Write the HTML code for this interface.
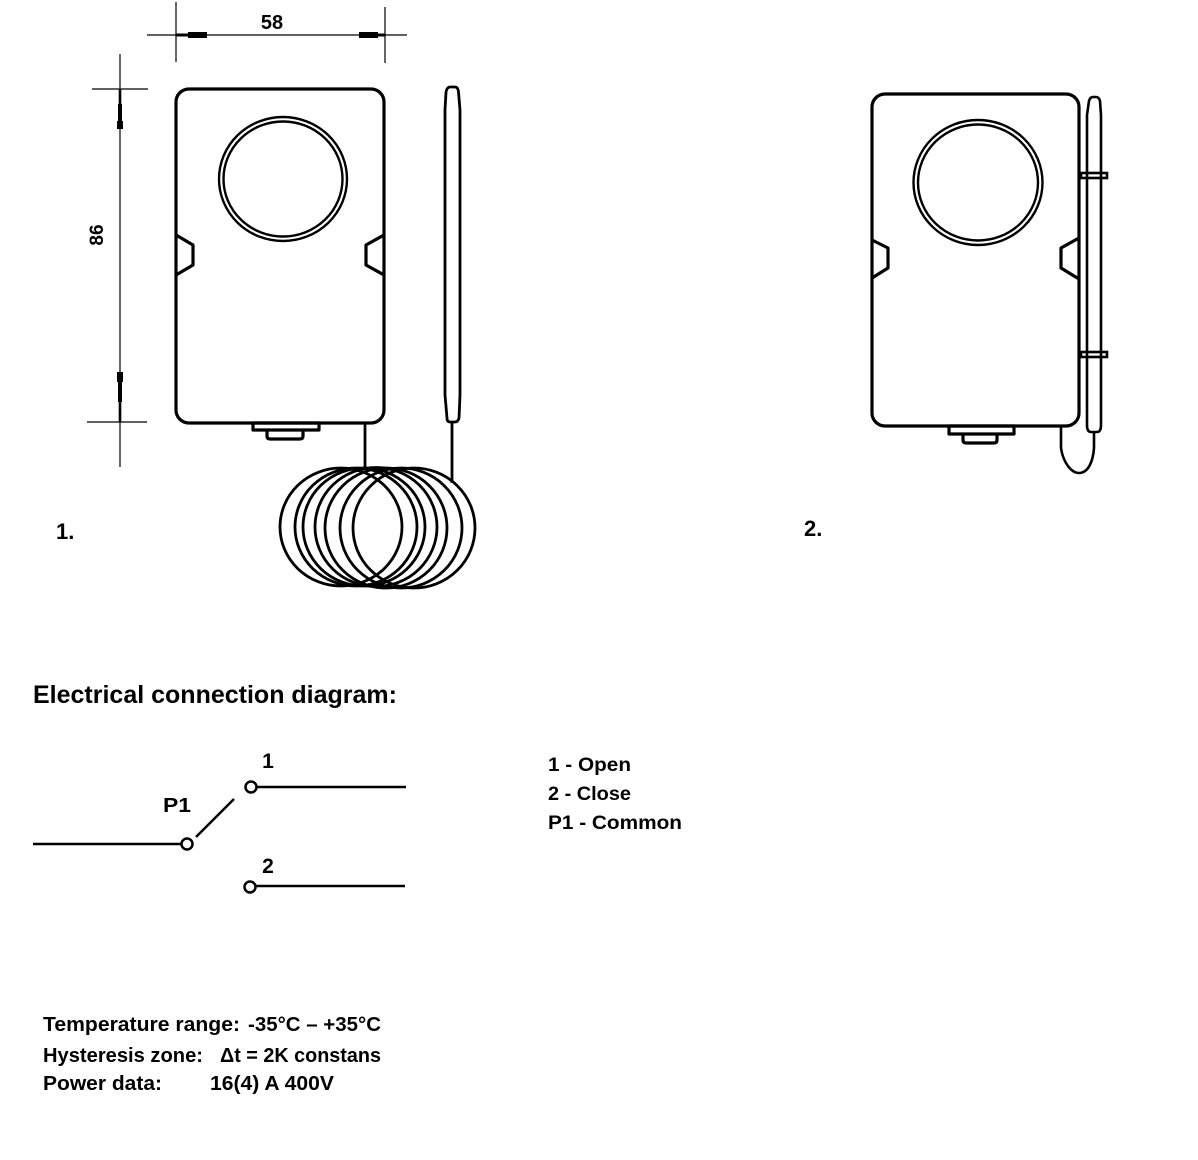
<!DOCTYPE html>
<html><head><meta charset="utf-8"><style>
html,body{margin:0;padding:0;background:#fff;}
svg{display:block;}
text{font-family:"Liberation Sans",sans-serif;font-weight:bold;fill:#000;}
</style></head><body>
<svg width="1198" height="1160" viewBox="0 0 1198 1160" xmlns="http://www.w3.org/2000/svg">
<rect width="1198" height="1160" fill="#fff"/>
<!-- Dimension 58 -->
<g stroke="#000" stroke-width="1.2" fill="none">
<line x1="176" y1="2" x2="176" y2="62"/>
<line x1="385" y1="7" x2="385" y2="63"/>
<line x1="147" y1="35" x2="407" y2="35"/>
<line x1="120" y1="54" x2="120" y2="467"/>
<line x1="92" y1="89" x2="148" y2="89"/>
<line x1="87" y1="422" x2="147" y2="422"/>
</g>
<g fill="#000">
<rect x="176" y="33.5" width="12" height="3"/>
<rect x="188" y="32" width="19" height="6"/>
<rect x="359" y="32" width="19" height="6"/>
<rect x="378" y="33.5" width="7" height="3"/>
<rect x="118.7" y="89" width="2.6" height="15"/>
<rect x="118" y="104" width="4" height="17"/>
<rect x="117" y="121" width="6" height="8"/>
<rect x="117" y="372" width="6" height="10"/>
<rect x="118" y="382" width="4" height="20"/>
<rect x="118.7" y="402" width="2.6" height="20"/>
</g>
<text x="272" y="29" font-size="20" text-anchor="middle">58</text>
<text transform="translate(103,235) rotate(-90)" font-size="19" text-anchor="middle">86</text>

<!-- Device 1 -->
<g stroke="#000" stroke-width="3.2" fill="none" stroke-linejoin="round">
<rect x="176" y="89" width="208" height="334" rx="13" ry="13"/>
<polyline points="176,235 193,245 193,265 176,275"/>
<polyline points="384,235 366,245 366,265 384,275"/>
<rect x="253" y="423" width="66" height="7"/>
<path d="M267,430 L267,436 Q267,439 270,439 L300,439 Q303,439 303,436 L303,430"/>
</g>
<g stroke="#000" stroke-width="2.4" fill="none">
<ellipse cx="283" cy="179" rx="64" ry="62"/>
<ellipse cx="283" cy="179" rx="59.5" ry="57.5"/>
</g>
<g stroke="#000" stroke-width="2.8" fill="none">
<line x1="365" y1="423" x2="365" y2="468"/>
<path d="M445,110 L446,92 Q447,87 450,87 L455,87 Q458,87 458.5,92 L460,110 L460,395 L459,418 Q458,422 455,422 L450,422 Q447,422 447,418 L445,395 Z"/>
<line x1="452" y1="422" x2="452" y2="483"/>
<ellipse cx="341" cy="527" rx="61" ry="59"/>
<ellipse cx="356" cy="527" rx="61" ry="59"/>
<ellipse cx="364" cy="527" rx="61" ry="59"/>
<ellipse cx="376" cy="527" rx="61" ry="59.5"/>
<ellipse cx="386" cy="528" rx="61" ry="60"/>
<ellipse cx="401" cy="528" rx="61" ry="60"/>
<ellipse cx="414" cy="528" rx="61" ry="60"/>
</g>
<text x="56" y="539" font-size="22">1.</text>

<!-- Device 2 -->
<g stroke="#000" stroke-width="3.2" fill="none" stroke-linejoin="round">
<rect x="872" y="94" width="207" height="332" rx="13" ry="13"/>
<polyline points="872,240 888,248 888,268 872,278"/>
<polyline points="1079,238 1061,248 1061,268 1079,279"/>
<rect x="949" y="426" width="65" height="8"/>
<path d="M963,434 L963,440 Q963,443 966,443 L994,443 Q997,443 997,440 L997,434"/>
</g>
<g stroke="#000" stroke-width="2.4" fill="none">
<ellipse cx="978" cy="182.5" rx="64.5" ry="62.5"/>
<ellipse cx="978" cy="182.5" rx="60" ry="58"/>
</g>
<g stroke="#000" stroke-width="2.6" fill="none">
<path d="M1087,115 L1089,101 Q1090,97 1093,97 L1096,97 Q1099,97 1100,101 L1101,115 L1101,425 Q1101,432 1097,432 L1091,432 Q1087,432 1087,425 Z"/>
<rect x="1081" y="173" width="26" height="5"/>
<rect x="1081" y="352" width="26" height="5"/>
<path d="M1061,427 L1061,448 C1063,462 1071,473 1079,473 C1088,473 1093,462 1094,448 L1094,432"/>
</g>
<text x="804" y="536" font-size="22">2.</text>

<!-- Electrical diagram -->
<text x="33" y="703" font-size="25" textLength="364" lengthAdjust="spacingAndGlyphs">Electrical connection diagram:</text>
<g stroke="#000" stroke-width="2.5" fill="none">
<line x1="33" y1="844" x2="181" y2="844"/>
<circle cx="187" cy="844" r="5.5"/>
<line x1="196" y1="837" x2="234" y2="799"/>
<circle cx="251" cy="787" r="5.5"/>
<line x1="257" y1="787" x2="406" y2="787"/>
<circle cx="250" cy="887" r="5.5"/>
<line x1="256" y1="886" x2="405" y2="886"/>
</g>
<text x="268" y="768" font-size="21" text-anchor="middle">1</text>
<text x="163" y="812" font-size="20" textLength="28" lengthAdjust="spacingAndGlyphs">P1</text>
<text x="268" y="873" font-size="21" text-anchor="middle">2</text>

<text x="548" y="771" font-size="19" textLength="83" lengthAdjust="spacingAndGlyphs">1 - Open</text>
<text x="548" y="800" font-size="19" textLength="83" lengthAdjust="spacingAndGlyphs">2 - Close</text>
<text x="548" y="829" font-size="19" textLength="134" lengthAdjust="spacingAndGlyphs">P1 - Common</text>

<text x="43" y="1031" font-size="20" textLength="197" lengthAdjust="spacingAndGlyphs">Temperature range:</text>
<text x="248" y="1031" font-size="20" textLength="133" lengthAdjust="spacingAndGlyphs">-35°C – +35°C</text>
<text x="43" y="1062" font-size="20" textLength="160" lengthAdjust="spacingAndGlyphs">Hysteresis zone:</text>
<text x="220" y="1062" font-size="20" textLength="161" lengthAdjust="spacingAndGlyphs">Δt = 2K constans</text>
<text x="43" y="1090" font-size="20" textLength="119" lengthAdjust="spacingAndGlyphs">Power data:</text>
<text x="210" y="1090" font-size="20" textLength="124" lengthAdjust="spacingAndGlyphs">16(4) A 400V</text>
</svg>
</body></html>
